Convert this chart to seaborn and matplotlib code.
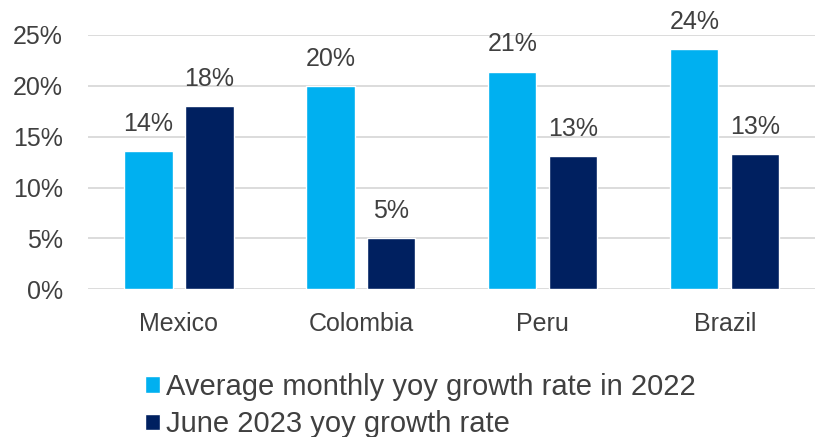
import matplotlib
matplotlib.use("Agg")
import matplotlib.pyplot as plt
from matplotlib.patches import Patch
import seaborn as sns
import pandas as pd

countries = ["Mexico", "Colombia", "Peru", "Brazil"]
avg_2022 = [13.6, 20.0, 21.4, 23.6]
june_2023 = [18.0, 5.0, 13.1, 13.3]
series_names = ["Average monthly yoy growth rate in 2022", "June 2023 yoy growth rate"]
y_ticks = [0, 5, 10, 15, 20, 25]

light_blue = "#00B0F0"
navy = "#002060"
text_color = "#404040"
grid_color = "#D9D9D9"

df = pd.DataFrame({
    "country": countries * 2,
    "series": [series_names[0]] * 4 + [series_names[1]] * 4,
    "value": avg_2022 + june_2023,
})

sns.set_theme(style="white")
plt.rcParams["font.family"] = ["Liberation Sans", "DejaVu Sans"]

fig = plt.figure(figsize=(8.15, 4.37), dpi=100)
ax = fig.add_axes([0.108, 0.338, 0.893, 0.582])

sns.barplot(data=df, x="country", y="value", hue="series", order=countries,
            hue_order=series_names, palette=[light_blue, navy],
            width=0.67, gap=0.21, saturation=1, legend=False, ax=ax, zorder=3)

ax.set_xlim(-0.5, 3.5)
ax.set_ylim(0, 25)
ax.set_yticks(y_ticks)
ax.set_yticklabels([f"{t}%" for t in y_ticks])
ax.yaxis.grid(True, color=grid_color, linewidth=1.3, zorder=0)
ax.set_axisbelow(True)
for s in ax.spines.values():
    s.set_visible(False)
ax.set_xlabel("")
ax.set_ylabel("")
ax.tick_params(axis="both", length=0, labelsize=18, colors=text_color)
ax.tick_params(axis="y", pad=18)
ax.tick_params(axis="x", pad=16)

for container in ax.containers:
    ax.bar_label(container, labels=[f"{v:.0f}%" for v in container.datavalues],
                 padding=11, fontsize=18, color=text_color, clip_on=False)

handles = [Patch(facecolor=light_blue), Patch(facecolor=navy)]
fig.legend(handles, series_names, loc="upper left", bbox_to_anchor=(0.178, 0.147),
           frameon=False, fontsize=21, labelcolor=text_color,
           handlelength=0.5, handleheight=0.5, handletextpad=0.22,
           labelspacing=0.33, borderpad=0, borderaxespad=0)

fig.savefig("out.png", dpi=100)
